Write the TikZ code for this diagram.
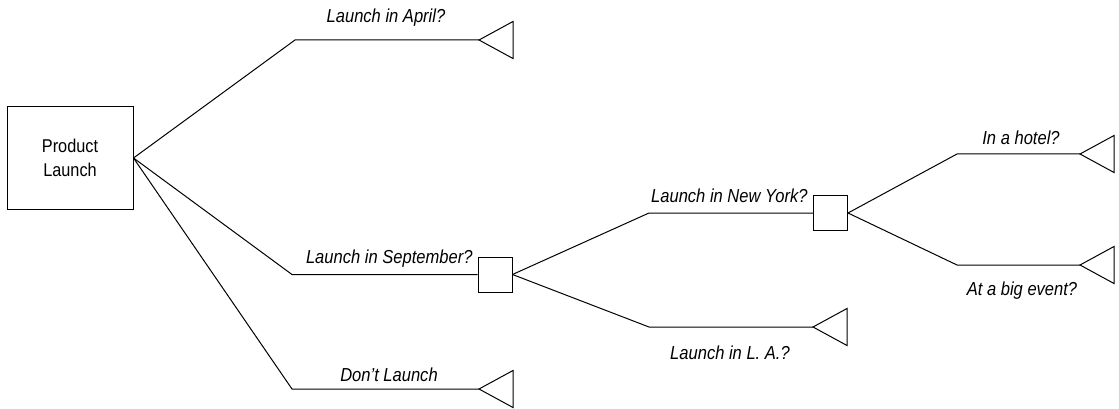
\documentclass[tikz,border=0pt]{standalone}
\usepackage{fontspec}
\setmainfont{Liberation Sans}[FakeStretch=0.88]
\begin{document}
\begin{tikzpicture}[x=1pt,y=-1pt,line width=1pt,
  rootbox/.style={draw,minimum width=126pt,minimum height=102pt,inner sep=0pt,align=center,font=\fontsize{18.5}{24}\selectfont},
  decbox/.style={draw,minimum width=34pt,minimum height=35pt,inner sep=0pt},
  lbl/.style={inner sep=0pt,font=\fontsize{18.8}{20}\selectfont\itshape},
  endtri/.style={draw,line join=miter}]
\useasboundingbox (0,0) rectangle (1119,409);
% nodes
\node[rootbox] (root) at (70,158) {Product\\Launch};
\node[decbox] (sep) at (495,274.5) {};
\node[decbox] (ny) at (830.5,213) {};
% end points (triangle tips)
\coordinate (apr) at (479,40);
\coordinate (dont) at (479,389);
\coordinate (la) at (813,327);
\coordinate (hotel) at (1080,154);
\coordinate (event) at (1080,265);
% triangles
\foreach \t in {apr,dont,la,hotel,event}{
  \draw[endtri] (\t) -- ++(34,-18.5) -- ++(0,37) -- cycle;
}
% connectors
\draw (root.east) -- (295,40) -- (apr);
\draw (root.east) -- (292,274.5) -- (sep.west);
\draw (root.east) -- (292,389) -- (dont);
\draw (sep.east) -- (649,213) -- (ny.west);
\draw (sep.east) -- (649,327) -- (la);
\draw (ny.east) -- (957,154) -- (hotel);
\draw (ny.east) -- (957,265) -- (event);
% labels
\node[lbl,anchor=base] (lapr) at (386,23) {Launch in April?};
\node[lbl,anchor=base east] (lsep) at (473,263) {Launch in September?};
\node[lbl,anchor=base] (ldont) at (389,381) {Don’t Launch};
\node[lbl,anchor=base east] (lny) at (808,202) {Launch in New York?};
\node[lbl,anchor=base] (lla) at (730,359) {Launch in L. A.?};
\node[lbl,anchor=base] (lhotel) at (1021,145) {In a hotel?};
\node[lbl,anchor=base] (levent) at (1022,295) {At a big event?};
\end{tikzpicture}
\end{document}
